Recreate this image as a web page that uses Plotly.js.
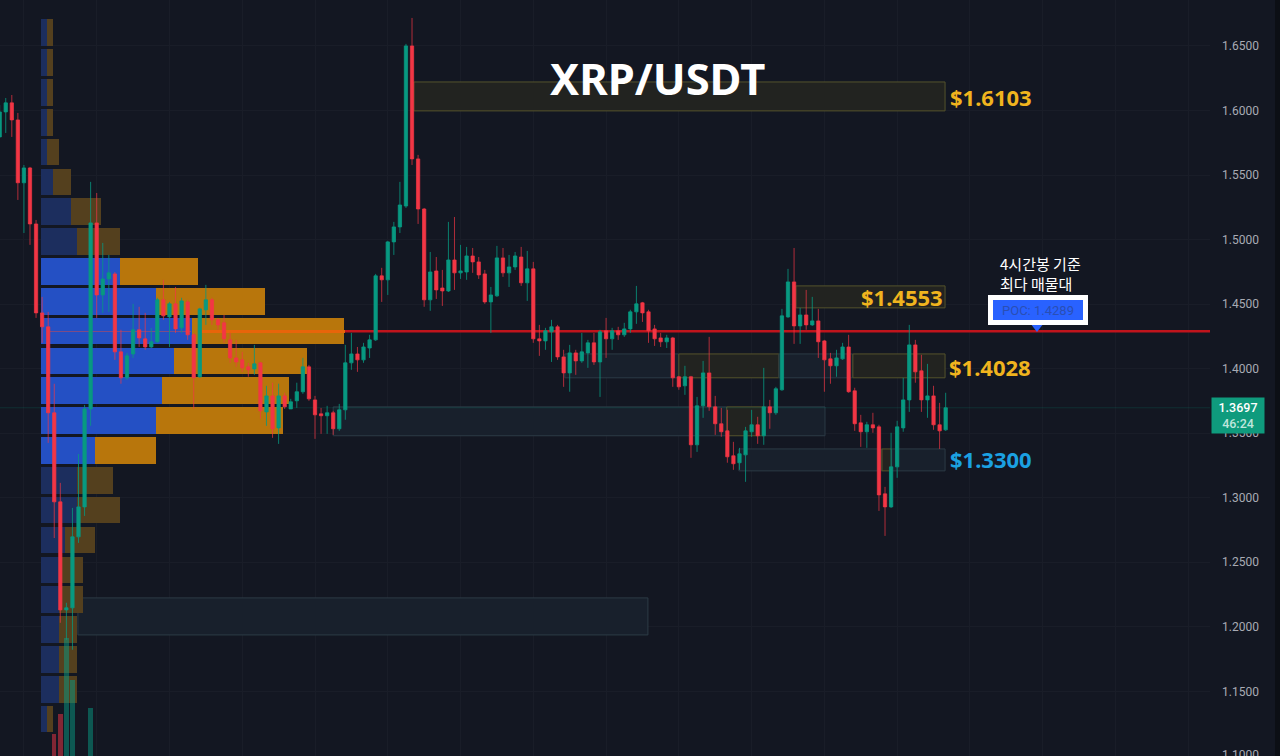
<!DOCTYPE html>
<html>
<head>
<meta charset="utf-8">
<script src="https://cdn.plot.ly/plotly-3.0.1.min.js"></script>
<style>
    html, body { margin: 0; padding: 0; background: #131722; }
</style>
</head>
<body>
<div id="chart" style="width:1280px;height:756px;"></div>
<script>
// candles, left to right
const open = [1.5795,1.5989,1.6059,1.5927,1.5440,1.5555,1.5121,1.4432,1.4324,1.3658,
    1.2968,1.2131,1.2147,1.2697,1.2929,1.3688,1.5129,1.4571,1.4695,1.4734,
    1.4130,1.3929,1.4114,1.4301,1.4231,1.4168,1.4208,1.4533,1.4401,1.4502,
    1.4316,1.4517,1.4262,1.3937,1.4456,1.4533,1.4378,1.4355,1.4223,1.4083,
    1.4068,1.4014,1.3998,1.4045,1.3665,1.3789,1.3541,1.3789,1.3688,1.3751,
    1.3821,1.4014,1.3758,1.3650,1.3635,1.3658,1.3534,1.3681,1.4045,1.4114,
    1.4068,1.4160,1.4223,1.4719,1.4688,1.4982,1.5098,1.5260,1.6500,1.5625,
    1.5237,1.4533,1.4757,1.4625,1.4602,1.4842,1.4742,1.4749,1.4873,1.4827,
    1.4734,1.4517,1.4564,1.4858,1.4742,1.4788,1.4865,1.4665,1.4773,1.4231,
    1.4215,1.4285,1.4324,1.4091,1.3967,1.4122,1.4060,1.4122,1.4200,1.4052,
    1.4293,1.4231,1.4293,1.4262,1.4308,1.4440,1.4510,1.4440,1.4308,1.4238,
    1.4208,1.4238,1.3937,1.3867,1.3937,1.3410,1.3712,1.3967,1.3704,1.3573,
    1.3518,1.3325,1.3271,1.3332,1.3511,1.3565,1.3480,1.3704,1.3658,1.3836,
    1.4401,1.4672,1.4331,1.4416,1.4339,1.4370,1.4215,1.4076,1.4022,1.4076,
    1.4168,1.3828,1.3580,1.3511,1.3565,1.3549,1.3030,1.2929,1.3239,1.3541,
    1.3758,1.4184,1.3983,1.3758,1.3789,1.3565,1.3526];
const high = [1.6043,1.6097,1.6120,1.5981,1.5578,1.5563,1.5152,1.4556,1.4440,1.3883,
    1.3115,1.2186,1.2921,1.3339,1.3719,1.5447,1.5361,1.4974,1.4881,1.4749,
    1.4301,1.4122,1.4502,1.4479,1.4432,1.4316,1.4549,1.4688,1.4517,1.4633,
    1.4549,1.4533,1.4277,1.4471,1.4649,1.4549,1.4393,1.4416,1.4277,1.4223,
    1.4130,1.4045,1.4184,1.4052,1.3867,1.3891,1.3883,1.3813,1.3766,1.3891,
    1.4083,1.4029,1.3789,1.3696,1.3712,1.3673,1.3727,1.4184,1.4277,1.4168,
    1.4200,1.4262,1.4734,1.4781,1.4990,1.5137,1.5447,1.6516,1.6717,1.5656,
    1.5245,1.4904,1.4865,1.4765,1.5137,1.5175,1.4959,1.4943,1.4935,1.4865,
    1.4765,1.4633,1.4951,1.4935,1.4881,1.4904,1.4943,1.4912,1.4827,1.4339,
    1.4316,1.4378,1.4339,1.4146,1.4184,1.4146,1.4277,1.4223,1.4277,1.4301,
    1.4393,1.4316,1.4324,1.4355,1.4456,1.4641,1.4517,1.4456,1.4339,1.4277,
    1.4262,1.4246,1.3944,1.4022,1.3944,1.3781,1.4060,1.4246,1.3789,1.3696,
    1.3681,1.3433,1.3386,1.3549,1.3681,1.3627,1.4006,1.3758,1.3859,1.4463,
    1.4773,1.4935,1.4471,1.4610,1.4556,1.4463,1.4223,1.4122,1.4146,1.4200,
    1.4262,1.3852,1.3642,1.3588,1.3658,1.3565,1.3084,1.3503,1.3596,1.3929,
    1.4339,1.4223,1.4107,1.4037,1.3867,1.3735,1.3813];
const low = [1.5795,1.5826,1.5795,1.5307,1.5051,1.4959,1.4393,1.4200,1.3425,1.2688,
    1.2031,1.1899,1.1822,1.2650,1.2859,1.3557,1.4393,1.4432,1.4440,1.4068,
    1.3883,1.3914,1.4083,1.4168,1.4146,1.4160,1.4200,1.4378,1.4168,1.4277,
    1.4277,1.4223,1.3688,1.3929,1.4339,1.4339,1.4301,1.4200,1.4045,1.4014,
    1.3975,1.3937,1.3952,1.3611,1.3557,1.3464,1.3417,1.3688,1.3688,1.3696,
    1.3805,1.3751,1.3456,1.3495,1.3495,1.3487,1.3518,1.3604,1.3991,1.3975,
    1.4045,1.4083,1.4215,1.4517,1.4571,1.4881,1.5051,1.5245,1.5578,1.5121,
    1.4479,1.4448,1.4540,1.4486,1.4594,1.4610,1.4695,1.4688,1.4742,1.4695,
    1.4502,1.4277,1.4556,1.4711,1.4633,1.4765,1.4641,1.4525,1.4200,1.4099,
    1.4146,1.4052,1.4068,1.3859,1.3821,1.3952,1.4045,1.4006,1.4029,1.3781,
    1.4083,1.4146,1.4223,1.4246,1.4277,1.4347,1.4362,1.4200,1.4176,1.4168,
    1.4160,1.3859,1.3836,1.3797,1.3309,1.3355,1.3619,1.3673,1.3487,1.3472,
    1.3271,1.3216,1.3216,1.3123,1.3472,1.3417,1.3410,1.3534,1.3642,1.3828,
    1.4393,1.4192,1.4192,1.4301,1.4331,1.4083,1.3821,1.3883,1.3937,1.4068,
    1.3813,1.3518,1.3394,1.3386,1.3503,1.2898,1.2704,1.2921,1.3154,1.3511,
    1.3665,1.3891,1.3665,1.3619,1.3526,1.3378,1.3518];
const close = [1.5989,1.6059,1.5927,1.5440,1.5555,1.5121,1.4432,1.4324,1.3658,1.2968,
    1.2131,1.2147,1.2697,1.2929,1.3688,1.5129,1.4571,1.4695,1.4742,1.4130,
    1.3929,1.4099,1.4301,1.4238,1.4168,1.4208,1.4533,1.4409,1.4502,1.4308,
    1.4525,1.4262,1.3929,1.4463,1.4533,1.4378,1.4339,1.4231,1.4083,1.4052,
    1.4006,1.3991,1.4037,1.3673,1.3789,1.3534,1.3789,1.3704,1.3743,1.3821,
    1.4014,1.3766,1.3642,1.3635,1.3658,1.3534,1.3681,1.4045,1.4114,1.4068,
    1.4168,1.4223,1.4719,1.4688,1.4982,1.5098,1.5268,1.6500,1.5625,1.5237,
    1.4533,1.4749,1.4610,1.4602,1.4842,1.4742,1.4757,1.4873,1.4827,1.4726,
    1.4517,1.4571,1.4858,1.4742,1.4788,1.4873,1.4665,1.4773,1.4231,1.4215,
    1.4293,1.4324,1.4091,1.3967,1.4122,1.4060,1.4130,1.4200,1.4052,1.4285,
    1.4231,1.4293,1.4262,1.4308,1.4440,1.4502,1.4432,1.4293,1.4231,1.4208,
    1.4238,1.3929,1.3859,1.3937,1.3410,1.3712,1.3967,1.3704,1.3573,1.3511,
    1.3317,1.3263,1.3340,1.3518,1.3565,1.3480,1.3704,1.3658,1.3844,1.4409,
    1.4672,1.4331,1.4416,1.4339,1.4370,1.4208,1.4068,1.4022,1.4083,1.4168,
    1.3821,1.3573,1.3511,1.3565,1.3541,1.3022,1.2929,1.3239,1.3549,1.3758,
    1.4184,1.3975,1.3758,1.3789,1.3565,1.3518,1.3697];
const candleIndex = open.map((_, i) => i);

// volume profile rows, bin price and buy/sell size
const binPrice = [1.6603,1.6372,1.6141,1.5909,1.5678,1.5447,1.5216,1.4985,1.4753,1.4522,1.4291,1.4060,
    1.3828,1.3597,1.3366,1.3135,1.2904,1.2672,1.2441,1.2210,1.1979,1.1748,1.1516,1.1285];
const binBuy = [1,1,1,1,1,2,5,6,13,19,25,22,20,19,9,6,6,4,3,3,3,3,3,1];
const binSell = [1,1,1,1,2,3,5,7,13,18,25,22,21,21,10,6,7,5,4,4,3,3,3,1];
const valueArea = [0,0,0,0,0,0,0,0,1,1,1,1,1,1,1,0,0,0,0,0,0,0,0,0];
const profileStart = 6.76;

// only the bars at the left that still show at the bottom
const volumeIndex = [9, 10, 11, 12, 15];
const volumeValue = [22, 42, 118, 76, 48];
const volumeRising = [0, 0, 1, 1, 1];

// supply / demand boxes
const zoneKind = ['olive','olive','blue','olive','blue','olive','blue','olive','blue','blue','olive','blue','blue'];
const zoneFrom = [68.3,131.3,93.2,112.0,128.5,140.7,55.0,119.9,125.9,121.9,145.5,147.1,12.9];
const zoneTo = [155.9,155.9,112.0,128.5,140.7,155.9,119.9,125.9,136.1,145.5,147.1,155.9,106.9];
const zoneTop = [1.6221,1.4641,1.4114,1.4114,1.4114,1.4114,1.3704,1.3704,1.3704,1.3378,1.3378,1.3378,1.2224];
const zoneBottom = [1.5997,1.4471,1.3929,1.3929,1.3929,1.3929,1.3480,1.3480,1.3480,1.3208,1.3208,1.3208,1.1937];

const poc = 1.4289;
const lastPrice = 1.3697;

const RED = '#f23645';
const GREEN = '#089981';
const W = 1210, H = 756;
const px = x => x / W;
const py = y => 1 - y / H;

const data = [
    {
        type: 'bar', orientation: 'h', y: binPrice, x: binBuy,
        base: binBuy.map(() => profileStart),
        width: 0.0207,
        marker: { color: valueArea.map(v => v ? '#2450c4' : '#1c2e5e'), line: { width: 0 } },
        hoverinfo: 'skip',
    },
    {
        type: 'bar', orientation: 'h', y: binPrice, x: binSell,
        base: binBuy.map(v => profileStart + v),
        width: 0.0207,
        marker: { color: valueArea.map(v => v ? '#b8760c' : '#54401e'), line: { width: 0 } },
        hoverinfo: 'skip',
    },
    {
        // POC line where it crosses the profile
        type: 'bar', orientation: 'h', y: [poc, poc], x: [23.2, 24],
        base: [8.3, 33],
        width: [0.0008, 0.002],
        marker: { color: ['rgba(235,70,60,0.45)', '#e8650a'], line: { width: 0 } },
        hoverinfo: 'skip',
    },
    {
        type: 'candlestick', x: candleIndex, open: open, high: high, low: low, close: close,
        increasing: { line: { color: 'rgba(8,153,129,0.8)', width: 1 }, fillcolor: GREEN },
        decreasing: { line: { color: 'rgba(242,54,69,0.7)', width: 1 }, fillcolor: RED },
        hoverinfo: 'skip',
    },
    {
        type: 'bar', x: volumeIndex, y: volumeValue, yaxis: 'y2', width: 0.72,
        marker: { color: volumeRising.map(v => v ? 'rgba(8,153,129,0.5)' : 'rgba(242,54,69,0.5)'), line: { width: 0 } },
        hoverinfo: 'skip',
    },
    {
        type: 'scatter', mode: 'markers', x: [171.06], y: [1.4327],
        marker: { symbol: 'triangle-down', size: 11, color: '#2962ff' },
        hoverinfo: 'skip',
    },
];

const shapes = zoneKind.map((kind, i) => ({
    type: 'rect', layer: 'between', xref: 'x', yref: 'y',
    x0: zoneFrom[i], x1: zoneTo[i], y0: zoneBottom[i], y1: zoneTop[i],
    fillcolor: kind === 'olive' ? '#222320' : '#18202c',
    line: { color: kind === 'olive' ? '#55532c' : '#2c3b46', width: 1 },
}));
shapes.push({
    type: 'line', layer: 'between', xref: 'x', yref: 'y', x0: 56.9, x1: 199.6, y0: poc, y1: poc,
    line: { color: '#c0141c', width: 2.5 },
});
shapes.push({
    type: 'line', layer: 'between', xref: 'x', yref: 'y', x0: 0, x1: 199.6, y0: lastPrice, y1: lastPrice,
    line: { color: 'rgba(8,153,129,0.18)', width: 1 },
});
shapes.push({
    type: 'rect', layer: 'above', xref: 'paper', yref: 'paper', x0: px(1275), x1: px(1280), y0: 0, y1: 1,
    fillcolor: '#0c0f15', line: { width: 0 },
});

const gold = '#f0b41e';
const bigLabel = (text, x, y, color) => ({
    xref: 'paper', yref: 'paper', x: px(x), y: py(y), xanchor: 'left', yanchor: 'middle',
    text: text, showarrow: false,
    font: { family: 'Noto Sans', size: 22, color: color, weight: 700 },
});

const annotations = [
    {
        xref: 'paper', yref: 'paper', x: px(657), y: py(78), xanchor: 'center', yanchor: 'middle',
        text: 'XRP/USDT', showarrow: false,
        font: { family: 'Noto Sans', size: 43.5, color: '#ffffff', weight: 700 },
    },
    bigLabel('$1.6103', 948, 97.5, gold),
    bigLabel('$1.4553', 859, 296.5, gold),
    bigLabel('$1.4028', 947, 366.5, gold),
    bigLabel('$1.3300', 948, 458.5, '#1ba1e2'),
    {
        xref: 'paper', yref: 'paper', x: px(998), y: py(273), xanchor: 'left', yanchor: 'middle', align: 'left',
        text: '4시간봉 기준<br>최다 매물대', showarrow: false,
        font: { family: 'Noto Sans CJK KR', size: 15, color: '#ffffff' },
    },
    {
        xref: 'paper', yref: 'paper', x: px(1037.5), y: py(310), xanchor: 'center', yanchor: 'middle',
        text: 'POC: 1.4289', showarrow: false, width: 90, height: 20,
        bgcolor: '#2962ff', bordercolor: '#ffffff', borderwidth: 5, borderpad: 0,
        font: { family: 'Roboto', size: 13, color: '#2a4fb4' },
    },
    {
        xref: 'paper', yref: 'paper', x: px(1238), y: py(415.5), xanchor: 'center', yanchor: 'middle',
        text: '1.3697<br><span style="color:#bfe6dc">46:24</span>', showarrow: false, width: 52, height: 35,
        bgcolor: '#0f9b7d', borderpad: 0,
        font: { family: 'Roboto', size: 12.5, color: '#ffffff', weight: 500 },
    },
    {
        // tick sits right on the bottom edge, plotly drops it
        xref: 'paper', yref: 'paper', x: px(1221), y: py(755), xanchor: 'left', yanchor: 'middle',
        text: '1.1000', showarrow: false, borderpad: 0,
        font: { family: 'Roboto', size: 12, color: '#a8abb4' },
    },
];

const layout = {
    width: 1280, height: 756,
    margin: { t: 0, l: 0, r: 70, b: 0 },
    paper_bgcolor: '#131722',
    plot_bgcolor: '#131722',
    showlegend: false,
    barmode: 'overlay',
    bargap: 0,
    boxgap: 0.22,
    xaxis: {
        range: [0.054, 199.59],
        tick0: 4, dtick: 12,
        showticklabels: false, ticks: '',
        showgrid: true, gridcolor: '#191d28', gridwidth: 1,
        zeroline: false, showline: false,
        rangeslider: { visible: false },
    },
    yaxis: {
        range: [1.0999, 1.6856],
        side: 'right',
        tick0: 1.1, dtick: 0.05,
        tickformat: '.4f',
        ticks: '', ticklabelstandoff: 11,
        tickfont: { family: 'Roboto', size: 12, color: '#a8abb4' },
        showgrid: true, gridcolor: '#191d28', gridwidth: 1,
        zeroline: false, showline: false,
    },
    yaxis2: {
        overlaying: 'y', side: 'left', range: [0, 756], visible: false,
    },
    shapes: shapes,
    annotations: annotations,
};

Plotly.newPlot('chart', data, layout, { displayModeBar: false, responsive: false });
</script>
</body>
</html>
